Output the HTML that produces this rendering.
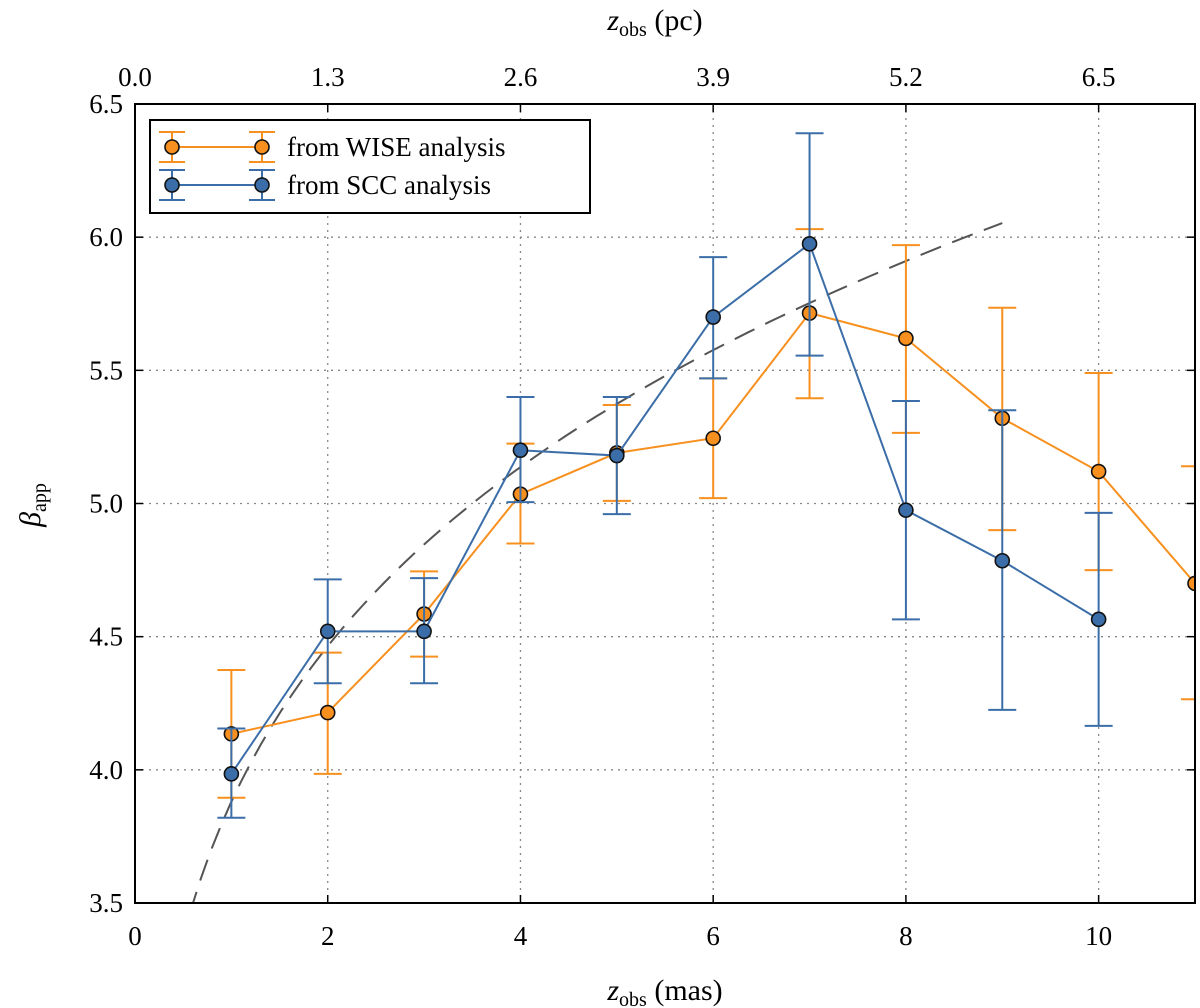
<!DOCTYPE html>
<html><head><meta charset="utf-8"><style>
html,body{margin:0;padding:0;background:#fff;}
svg{display:block;font-family:"Liberation Serif",serif;}
</style></head><body>
<svg id="chart" width="1200" height="1008" viewBox="0 0 1200 1008" xmlns="http://www.w3.org/2000/svg"></svg>
<script>
const xTicks = [0, 2, 4, 6, 8, 10];
const yTicks = [3.5, 4.0, 4.5, 5.0, 5.5, 6.0, 6.5];
const topTickLabels = ["0.0", "1.3", "2.6", "3.9", "5.2", "6.5"];
const wiseX = [1, 2, 3, 4, 5, 6, 7, 8, 9, 10, 11];
const wiseY = [4.135, 4.215, 4.585, 5.035, 5.19, 5.245, 5.715, 5.62, 5.32, 5.12, 4.70];
const wiseUp = [4.375, 4.44, 4.745, 5.225, 5.37, 5.47, 6.03, 5.97, 5.735, 5.49, 5.14];
const wiseLo = [3.895, 3.985, 4.425, 4.85, 5.01, 5.02, 5.395, 5.265, 4.90, 4.75, 4.265];
const sccX = [1, 2, 3, 4, 5, 6, 7, 8, 9, 10];
const sccY = [3.985, 4.52, 4.52, 5.20, 5.18, 5.70, 5.975, 4.975, 4.785, 4.565];
const sccUp = [4.155, 4.715, 4.72, 5.40, 5.40, 5.925, 6.39, 5.385, 5.35, 4.965];
const sccLo = [3.82, 4.325, 4.325, 5.005, 4.96, 5.47, 5.555, 4.565, 4.225, 4.165];
const fitParams = [3.88, 0.2024];   // beta = a * z^b
const fitRange = [0.57, 9.0];

const L=135, R=1195, T=104, B=903;
const xMin=0, xMax=11, yMin=3.5, yMax=6.5;
const sx = v => L + (v - xMin) / (xMax - xMin) * (R - L);
const sy = v => B - (v - yMin) / (yMax - yMin) * (B - T);
const NS = "http://www.w3.org/2000/svg";
const svg = document.getElementById("chart");
function mk(tag, attrs, parent){ const e=document.createElementNS(NS,tag); for(const k in attrs) e.setAttribute(k,attrs[k]); (parent||svg).appendChild(e); return e; }

// clip
const defs = mk("defs",{});
const cp = mk("clipPath",{id:"clip"},defs);
mk("rect",{x:L,y:T,width:R-L,height:B-T},cp);

// grid
const grid = mk("g",{});


xTicks.forEach(t=>{ if(t>0) mk("line",{x1:sx(t),x2:sx(t),y1:T,y2:B,stroke:"#888","stroke-width":1.3,"stroke-dasharray":"2,5"},grid); });
yTicks.forEach(t=>{ if(t>yMin && t<yMax) mk("line",{x1:L,x2:R,y1:sy(t),y2:sy(t),stroke:"#888","stroke-width":1.3,"stroke-dasharray":"2,5"},grid); });

// ticks & labels
const axes = mk("g",{});


xTicks.forEach((t,i)=>{
  const x=sx(t);
  mk("line",{x1:x,x2:x,y1:B,y2:B-8,stroke:"#000","stroke-width":1.5},axes);
  mk("line",{x1:x,x2:x,y1:T,y2:T+8,stroke:"#000","stroke-width":1.5},axes);
  const tl=mk("text",{x:x,y:B+42,"font-size":27,"text-anchor":"middle"},axes); tl.textContent=t;
  
  
  const tt=mk("text",{x:x,y:T-18,"font-size":27,"text-anchor":"middle"},axes); tt.textContent=topTickLabels[i];
  
  
});
yTicks.forEach(t=>{
  const y=sy(t);
  mk("line",{x1:L,x2:L+8,y1:y,y2:y,stroke:"#000","stroke-width":1.5},axes);
  mk("line",{x1:R,x2:R-8,y1:y,y2:y,stroke:"#000","stroke-width":1.5},axes);
  const tl=mk("text",{x:L-12,y:y+9,"font-size":27,"text-anchor":"end"},axes); tl.textContent=t.toFixed(1);
  
  
});

// fit dashed line
const fitPts=[];
for(let i=0;i<=80;i++){ const z=fitRange[0]+(fitRange[1]-fitRange[0])*i/80; fitPts.push(sx(z).toFixed(1)+","+sy(fitParams[0]*Math.pow(z,fitParams[1])).toFixed(1)); }
const fit=mk("polyline",{points:fitPts.join(" "),fill:"none",stroke:"#555","stroke-width":2,"stroke-dasharray":"22,12","clip-path":"url(#clip)"});



function series(xs,ys,up,lo,color,name){
  const g=mk("g",{"clip-path":"url(#clip)"});
  
  
  mk("polyline",{points:xs.map((x,i)=>sx(x)+","+sy(ys[i])).join(" "),fill:"none",stroke:color,"stroke-width":2},g);
  xs.forEach((x,i)=>{
    const X=sx(x);
    mk("line",{x1:X,x2:X,y1:sy(up[i]),y2:sy(lo[i]),stroke:color,"stroke-width":2},g);
    mk("line",{x1:X-14,x2:X+14,y1:sy(up[i]),y2:sy(up[i]),stroke:color,"stroke-width":2},g);
    mk("line",{x1:X-14,x2:X+14,y1:sy(lo[i]),y2:sy(lo[i]),stroke:color,"stroke-width":2},g);
  });
  xs.forEach((x,i)=>{
    const c=mk("circle",{cx:sx(x),cy:sy(ys[i]),r:7,fill:color,stroke:"#111","stroke-width":1.6},g);
    
    
  });
}
const ORANGE="#f7901e", BLUE="#3b6ea8";
series(wiseX,wiseY,wiseUp,wiseLo,ORANGE,"wise-series");
series(sccX,sccY,sccUp,sccLo,BLUE,"scc-series");

// frame
const fr=mk("rect",{x:L,y:T,width:R-L,height:B-T,fill:"none",stroke:"#000","stroke-width":2});



// axis titles
const xt=mk("text",{x:665,y:1000,"font-size":30,"text-anchor":"middle"});
xt.innerHTML='<tspan font-style="italic">z</tspan><tspan font-size="20" dy="6">obs</tspan><tspan dy="-6"> (mas)</tspan>';


const tt=mk("text",{x:655,y:30,"font-size":30,"text-anchor":"middle"});
tt.innerHTML='<tspan font-style="italic">z</tspan><tspan font-size="20" dy="6">obs</tspan><tspan dy="-6"> (pc)</tspan>';


const yt=mk("text",{x:0,y:0,"font-size":30,"text-anchor":"middle",transform:"translate(40,505) rotate(-90)"});
yt.innerHTML='<tspan font-style="italic">β</tspan><tspan font-size="20" dy="6">app</tspan>';



// legend
const lg=mk("g",{});


mk("rect",{x:150,y:120,width:440,height:93,fill:"#fff",stroke:"#000","stroke-width":2},lg);
[[147,ORANGE,"from WISE analysis","legend-entry-wise"],[185,BLUE,"from SCC analysis","legend-entry-scc"]].forEach(([y,c,label,nm])=>{
  const e=mk("g",{},lg);
  
  
  mk("line",{x1:172,x2:262,y1:y,y2:y,stroke:c,"stroke-width":2},e);
  [172,262].forEach(x=>{
    mk("line",{x1:x,x2:x,y1:y-15,y2:y+15,stroke:c,"stroke-width":2},e);
    mk("line",{x1:x-13,x2:x+13,y1:y-15,y2:y-15,stroke:c,"stroke-width":2},e);
    mk("line",{x1:x-13,x2:x+13,y1:y+15,y2:y+15,stroke:c,"stroke-width":2},e);
    mk("circle",{cx:x,cy:y,r:7,fill:c,stroke:"#111","stroke-width":1.6},e);
  });
  const t=mk("text",{x:287,y:y+9,"font-size":27},e); t.textContent=label;
});
</script>
</body></html>
